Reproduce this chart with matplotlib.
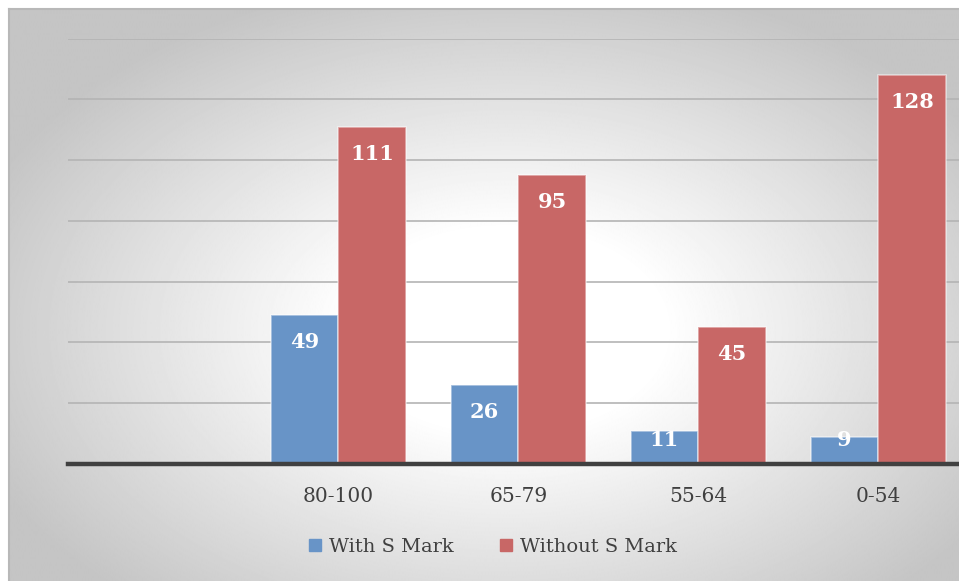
import matplotlib
matplotlib.use("Agg")
import matplotlib.pyplot as plt
import numpy as np
from matplotlib.patches import Patch

categories = ["", "80-100", "65-79", "55-64", "0-54"]
with_s_mark = [None, 49, 26, 11, 9]
without_s_mark = [None, 111, 95, 45, 128]

BLUE = "#6894c7"
RED = "#c86766"
W, H = 959, 581

fig = plt.figure(figsize=(W / 100, H / 100), dpi=100)
fig.patch.set_facecolor("white")

# radial grey-to-white background of the chart area
bg = fig.add_axes([9 / W, -0.05, 1, 1.05 - 9 / H])
yy, xx = np.mgrid[0:H + 20, 0:W - 9]
cx, cy = 500, 330
r = np.sqrt(((xx + 9 - cx) / 560) ** 2 + ((yy + 9 - cy) / 360) ** 2)
t = np.clip((r - 0.28) / 0.72, 0, 1)
img = 1.0 - 0.23 * t
bg.imshow(img, cmap="gray", vmin=0, vmax=1, aspect="auto", interpolation="bilinear")
bg.set_xticks([])
bg.set_yticks([])
for s in bg.spines.values():
    s.set_color("#b8b8b8")
    s.set_linewidth(1.5)
bg.spines["right"].set_visible(False)
bg.spines["bottom"].set_visible(False)

# plot area spans 5 category slots, extends past the right edge like the source
left_px, right_px = 68.3, 968.3
top_px, base_px = 38.7, 464
ax = fig.add_axes([left_px / W, 1 - base_px / H, (right_px - left_px) / W, (base_px - top_px) / H])
ax.patch.set_alpha(0)

x = np.arange(len(categories))
bw = 0.375
wv = [v if v is not None else 0 for v in with_s_mark]
wov = [v if v is not None else 0 for v in without_s_mark]
b1 = ax.bar(x - bw / 2, wv, bw, color=BLUE, edgecolor=(1, 1, 1, 0.5), linewidth=1.2, zorder=3)
b2 = ax.bar(x + bw / 2, wov, bw, color=RED, edgecolor=(1, 1, 1, 0.5), linewidth=1.2, zorder=3)

ax.set_xlim(-0.5, len(categories) - 0.5)
ax.set_ylim(0, 140)
ax.set_yticks(np.arange(20, 141, 20))
ax.yaxis.grid(True, color="#b4b4b4", linewidth=1.2, zorder=0)
ax.set_axisbelow(True)
ax.tick_params(left=False, labelleft=False, bottom=False)
ax.set_xticks(x)
ax.set_xticklabels(categories, family="DejaVu Serif", fontsize=14.5, color="#404040")
ax.tick_params(axis="x", pad=13)
for s in ["top", "right", "left"]:
    ax.spines[s].set_visible(False)
ax.spines["bottom"].set_color("#404040")
ax.spines["bottom"].set_linewidth(3.2)
ax.spines["bottom"].set_zorder(4)

# labels sit inside the bar end, but never closer than ~24 px to the baseline
px_per_unit = (base_px - top_px) / 140
for bars, vals in ((b1, with_s_mark), (b2, without_s_mark)):
    for rect, v in zip(bars, vals):
        if v is None:
            continue
        y_lab = max(v - 27 / px_per_unit, 24 / px_per_unit)
        ax.text(rect.get_x() + rect.get_width() / 2, y_lab, str(v), ha="center", va="center",
                color="white", fontsize=15, fontweight="bold", family="DejaVu Serif", zorder=5)

handles = [Patch(color=BLUE, label="With S Mark"), Patch(color=RED, label="Without S Mark")]
leg = fig.legend(handles=handles, loc="center", bbox_to_anchor=(493 / W, 1 - 547 / H), ncol=2,
                 frameon=False, handlelength=0.6, handleheight=0.6, handletextpad=0.4,
                 columnspacing=2.4, prop={"family": "DejaVu Serif", "size": 14})
for txt in leg.get_texts():
    txt.set_color("#404040")

fig.savefig("out.png", dpi=100)
